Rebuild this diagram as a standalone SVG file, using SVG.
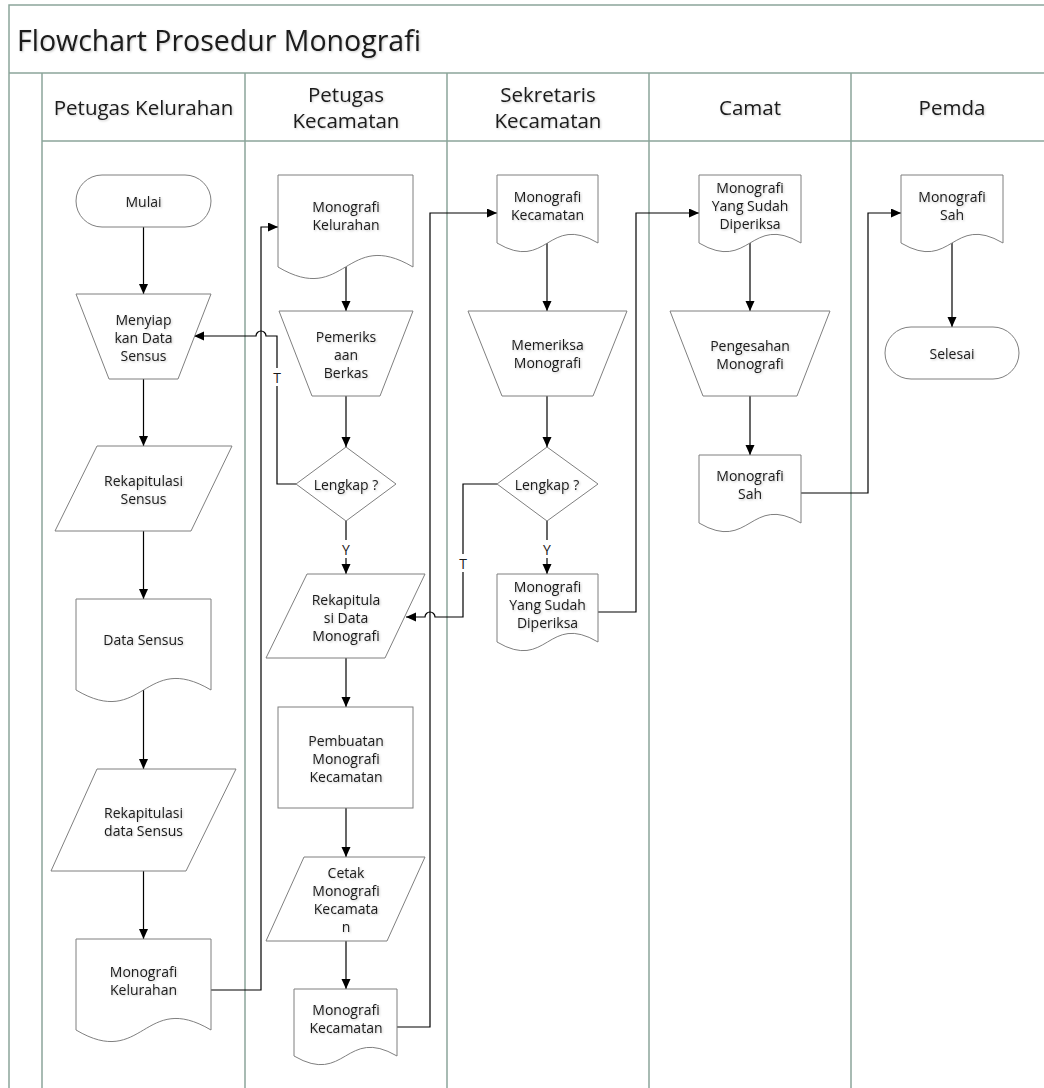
<svg xmlns="http://www.w3.org/2000/svg" width="1044" height="1088" viewBox="0 0 1044 1088">
<style>
.lane{stroke:#8ca59b;stroke-width:1.5;fill:none}
.shape{fill:#fff;stroke:#7f7f7f;stroke-width:1}
.t{font-family:"Open Sans","Noto Sans",sans-serif;font-size:14px;fill:#1a1a1a;text-anchor:middle;dominant-baseline:central;filter:url(#sh)}
.h{font-family:"Open Sans","Noto Sans",sans-serif;font-size:20.5px;fill:#1a1a1a;text-anchor:middle;dominant-baseline:central;filter:url(#sh)}
.title{font-family:"Open Sans","Noto Sans",sans-serif;font-size:28.5px;fill:#1a1a1a;filter:url(#sh)}
.c{fill:none;stroke:#000;stroke-width:1.2;marker-end:url(#arr)}
.lbl{font-family:"Open Sans","Noto Sans",sans-serif;font-size:14px;fill:#1a1a1a;text-anchor:middle;dominant-baseline:central}
</style>
<defs>
<marker id="arr" markerUnits="userSpaceOnUse" markerWidth="11" markerHeight="10" refX="10" refY="4.5" orient="auto">
<path d="M0,0 L10,4.5 L0,9 Z" fill="#000"/>
</marker>
<filter id="sh" x="-10%" y="-30%" width="120%" height="160%">
<feDropShadow dx="1" dy="1" stdDeviation="0.8" flood-color="#000" flood-opacity="0.22"/>
</filter>
</defs>
<rect x="0" y="0" width="1044" height="1088" fill="#fff"/>
<g id="pool">
<path class="lane" d="M9,1088 V5 H1044 M9,73 H1044 M42,73 V1088 M42,141 H1044 M245,73 V1088 M447,73 V1088 M649,73 V1088 M851,73 V1088"/>
<text class="title" x="17" y="51">Flowchart Prosedur Monografi</text>
<text class="h" x="143.5" y="107">Petugas Kelurahan</text>
<text class="h" x="346" y="94">Petugas</text>
<text class="h" x="346" y="120">Kecamatan</text>
<text class="h" x="548" y="94">Sekretaris</text>
<text class="h" x="548" y="120">Kecamatan</text>
<text class="h" x="750" y="107">Camat</text>
<text class="h" x="952" y="107">Pemda</text>
</g>
<g id="connectors">
<path class="c" d="M143.5,227 V294"/>
<path class="c" d="M143.5,379 V446"/>
<path class="c" d="M143.5,531 V599"/>
<path class="c" d="M143.5,690 V769"/>
<path class="c" d="M143.5,871 V939"/>
<path class="c" d="M211,990 H261 V227 H278"/>
<path class="c" d="M346,267 V311"/>
<path class="c" d="M346,396 V447"/>
<path class="c" d="M296,484 H277 V336 H266 A5,5 0 0 0 256,336 H194"/>
<rect x="271" y="368" width="12" height="18" fill="#fff"/>
<text class="lbl" x="277" y="377">T</text>
<path class="c" d="M346,521 V574"/>
<rect x="340" y="540" width="12" height="18" fill="#fff"/>
<text class="lbl" x="346" y="549">Y</text>
<path class="c" d="M346,658 V707"/>
<path class="c" d="M346,808 V857"/>
<path class="c" d="M346,941 V989"/>
<path class="c" d="M397,1027 H430 V213 H497"/>
<path class="c" d="M547,243 V311"/>
<path class="c" d="M547,396 V447"/>
<path class="c" d="M497,484 H463 V617 H435 A5,5 0 0 0 425,617 H406"/>
<rect x="457" y="554" width="12" height="18" fill="#fff"/>
<text class="lbl" x="463" y="563">T</text>
<path class="c" d="M547,521 V574"/>
<rect x="541" y="540" width="12" height="18" fill="#fff"/>
<text class="lbl" x="547" y="549">Y</text>
<path class="c" d="M598,612 H636 V213 H699"/>
<path class="c" d="M750,243 V311"/>
<path class="c" d="M750,396 V455"/>
<path class="c" d="M801,493 H868 V213 H901"/>
<path class="c" d="M952,243 V327"/>
</g>
<g id="mulai">
<rect class="shape" x="76" y="175" width="135" height="52" rx="26"/>
<text class="t" x="143.5" y="201">Mulai</text>
</g>
<g id="menyiapkan">
<polygon class="shape" points="76,294 211,294 178,379 109,379"/>
<text class="t" x="143.5" y="319">Menyiap</text>
<text class="t" x="143.5" y="337">kan Data</text>
<text class="t" x="143.5" y="355">Sensus</text>
</g>
<g id="rekap-sensus">
<polygon class="shape" points="97,446 232,446 191,531 55,531"/>
<text class="t" x="143.5" y="480">Rekapitulasi</text>
<text class="t" x="143.5" y="498">Sensus</text>
</g>
<g id="data-sensus">
<path class="shape" d="M76,599 H211 V690 C143.5,650 143.5,730 76,690 Z"/>
<text class="t" x="143.5" y="639">Data Sensus</text>
</g>
<g id="rekap-data-sensus">
<polygon class="shape" points="97,769 236,769 186,871 51,871"/>
<text class="t" x="143.5" y="812">Rekapitulasi</text>
<text class="t" x="143.5" y="830">data Sensus</text>
</g>
<g id="monografi-kelurahan-1">
<path class="shape" d="M76,939 H211 V1030 C143.5,990 143.5,1070 76,1030 Z"/>
<text class="t" x="143.5" y="971">Monografi</text>
<text class="t" x="143.5" y="989">Kelurahan</text>
</g>
<g id="monografi-kelurahan-2">
<path class="shape" d="M278,175 H413 V267 C345.5,227 345.5,307 278,267 Z"/>
<text class="t" x="346" y="206">Monografi</text>
<text class="t" x="346" y="224">Kelurahan</text>
</g>
<g id="pemeriksaan">
<polygon class="shape" points="279,311 413,311 380,396 312,396"/>
<text class="t" x="346" y="336">Pemeriks</text>
<text class="t" x="346" y="354">aan</text>
<text class="t" x="346" y="372">Berkas</text>
</g>
<g id="lengkap-1">
<polygon class="shape" points="346,447 396,484 346,521 296,484"/>
<text class="t" x="346" y="484">Lengkap ?</text>
</g>
<g id="rekap-monografi">
<polygon class="shape" points="307,574 425,574 385,658 266,658"/>
<text class="t" x="346" y="599">Rekapitula</text>
<text class="t" x="346" y="617">si Data</text>
<text class="t" x="346" y="635">Monografi</text>
</g>
<g id="pembuatan">
<rect class="shape" x="278" y="707" width="135" height="101"/>
<text class="t" x="346" y="740">Pembuatan</text>
<text class="t" x="346" y="758">Monografi</text>
<text class="t" x="346" y="776">Kecamatan</text>
</g>
<g id="cetak">
<polygon class="shape" points="304,857 425,857 387,941 266,941"/>
<text class="t" x="346" y="872">Cetak</text>
<text class="t" x="346" y="890">Monografi</text>
<text class="t" x="346" y="908">Kecamata</text>
<text class="t" x="346" y="926">n</text>
</g>
<g id="monografi-kecamatan-1">
<path class="shape" d="M294,989 H397 V1056 C345.5,1026 345.5,1086 294,1056 Z"/>
<text class="t" x="346" y="1009">Monografi</text>
<text class="t" x="346" y="1027">Kecamatan</text>
</g>
<g id="monografi-kecamatan-2">
<path class="shape" d="M497,175 H598 V243 C547.5,213 547.5,273 497,243 Z"/>
<text class="t" x="547.5" y="196">Monografi</text>
<text class="t" x="547.5" y="214">Kecamatan</text>
</g>
<g id="memeriksa">
<polygon class="shape" points="468,311 627,311 593,396 502,396"/>
<text class="t" x="547.5" y="344">Memeriksa</text>
<text class="t" x="547.5" y="362">Monografi</text>
</g>
<g id="lengkap-2">
<polygon class="shape" points="547,447 598,484 547,521 497,484"/>
<text class="t" x="547" y="484">Lengkap ?</text>
</g>
<g id="diperiksa-1">
<path class="shape" d="M497,574 H598 V642 C547.5,612 547.5,672 497,642 Z"/>
<text class="t" x="547.5" y="586">Monografi</text>
<text class="t" x="547.5" y="604">Yang Sudah</text>
<text class="t" x="547.5" y="622">Diperiksa</text>
</g>
<g id="diperiksa-2">
<path class="shape" d="M699,175 H801 V243 C750,213 750,273 699,243 Z"/>
<text class="t" x="750" y="187">Monografi</text>
<text class="t" x="750" y="205">Yang Sudah</text>
<text class="t" x="750" y="223">Diperiksa</text>
</g>
<g id="pengesahan">
<polygon class="shape" points="670,311 830,311 797,396 703,396"/>
<text class="t" x="750" y="345">Pengesahan</text>
<text class="t" x="750" y="363">Monografi</text>
</g>
<g id="monografi-sah-1">
<path class="shape" d="M699,455 H801 V523 C750,493 750,553 699,523 Z"/>
<text class="t" x="750" y="475">Monografi</text>
<text class="t" x="750" y="493">Sah</text>
</g>
<g id="monografi-sah-2">
<path class="shape" d="M901,175 H1003 V243 C952,213 952,273 901,243 Z"/>
<text class="t" x="952" y="196">Monografi</text>
<text class="t" x="952" y="214">Sah</text>
</g>
<g id="selesai">
<rect class="shape" x="885" y="327" width="134" height="52" rx="26"/>
<text class="t" x="952" y="353">Selesai</text>
</g>
</svg>
